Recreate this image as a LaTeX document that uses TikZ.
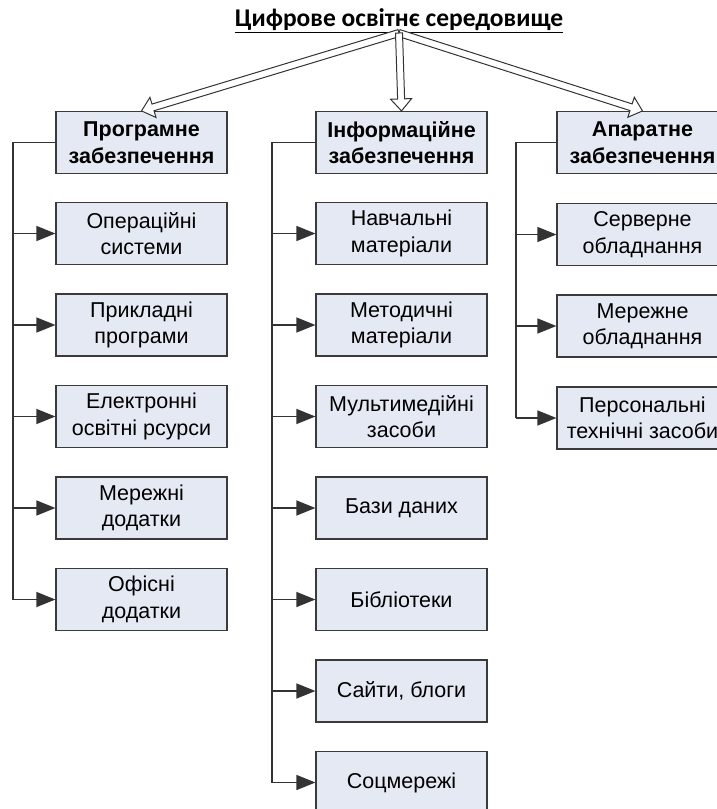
\documentclass[tikz,border=0pt]{standalone}
\usepackage{fontspec}
\setmainfont{Liberation Sans}
\newfontfamily\titlefont{Carlito}
\usetikzlibrary{arrows.meta,calc}
\definecolor{boxc}{HTML}{E4E9F3}
\definecolor{bordc}{HTML}{3A3A3A}
\definecolor{linec}{HTML}{333333}
\tikzset{
  box/.style={draw=bordc, fill=boxc, line width=1.2pt, minimum width=171pt, minimum height=62pt,
    align=center, inner sep=2pt, font=\fontsize{21.5}{26.5}\selectfont},
  hbox/.style={box, font=\bfseries\fontsize{21.5}{26.5}\selectfont},
  link/.style={draw=linec, line width=1.4pt},
  arr/.style={link, -{Triangle[length=19pt,width=15pt]}},
  bigarr/.style={draw=linec, fill=white, line width=1pt, line join=miter},
}
\newcommand\bigarrow[2]{%
  \coordinate (ba-h) at ($(#2)!12pt!(#1)$);
  \path[bigarr] ($(#1)!3.5pt!90:(#2)$) -- ($(ba-h)!3.5pt!-90:(#1)$) -- ($(ba-h)!10.5pt!-90:(#1)$) -- (#2)
    -- ($(ba-h)!10.5pt!90:(#1)$) -- ($(ba-h)!3.5pt!90:(#1)$) -- ($(#1)!3.5pt!-90:(#2)$) -- cycle;
}
\begin{document}
\begin{tikzpicture}[x=1pt,y=-1pt]
\useasboundingbox (0,0) rectangle (717,809);
\clip (0,0) rectangle (717,809);
\fill[white] (0,0) rectangle (717,809);

% title
\node[anchor=south, inner sep=0pt, font=\titlefont\bfseries\fontsize{25.5}{28}\selectfont] (title) at (399,33)
  {\underline{Цифрове освітнє середовище}};

% headers
\node[hbox] (prog) at (141.5,142.5) {Програмне\\забезпечення};
\node[hbox] (info) at (401.5,142.5) {Інформаційне\\забезпечення};
\node[hbox] (hard) at (642.5,142.5) {Апаратне\\забезпечення};

% big arrows
\bigarrow{title.south}{prog.north}
\bigarrow{title.south}{hard.north}
\bigarrow{title.south}{info.north}

% left column
\node[box] (p1) at (141.5,233.5) {Операційні\\системи};
\node[box] (p2) at (141.5,325) {Прикладні\\програми};
\node[box] (p3) at (141.5,416.5) {Електронні\\освітні рсурси};
\node[box] (p4) at (141.5,508) {Мережні\\додатки};
\node[box] (p5) at (141.5,599.5) {Офісні\\додатки};

% middle column
\node[box] (i1) at (401.5,233.5) {Навчальні\\матеріали};
\node[box] (i2) at (401.5,325) {Методичні\\матеріали};
\node[box] (i3) at (401.5,416.5) {Мультимедійні\\засоби};
\node[box] (i4) at (401.5,508) {Бази даних};
\node[box] (i5) at (401.5,599.5) {Бібліотеки};
\node[box] (i6) at (401.5,691) {Сайти, блоги};
\node[box] (i7) at (401.5,782.5) {Соцмережі};

% right column
\node[box] (h1) at (642.5,234.5) {Серверне\\обладнання};
\node[box] (h2) at (642.5,326) {Мережне\\обладнання};
\node[box] (h3) at (642.5,418) {Персональні\\технічні засоби};

% trunks
\coordinate (lt) at (13,142.5);
\coordinate (mt) at (272,142.5);
\coordinate (rt) at (516,142.5);

\draw[link] (prog.west) -- (lt) -- (lt |- p5.west);
\foreach \n in {p1,p2,p3,p4,p5} \draw[arr] (lt |- \n.west) -- (\n.west);

\draw[link] (info.west) -- (mt) -- (mt |- i7.west);
\foreach \n in {i1,i2,i3,i4,i5,i6,i7} \draw[arr] (mt |- \n.west) -- (\n.west);

\draw[link] (hard.west) -- (rt) -- (rt |- h3.west);
\foreach \n in {h1,h2,h3} \draw[arr] (rt |- \n.west) -- (\n.west);
\end{tikzpicture}
\end{document}
